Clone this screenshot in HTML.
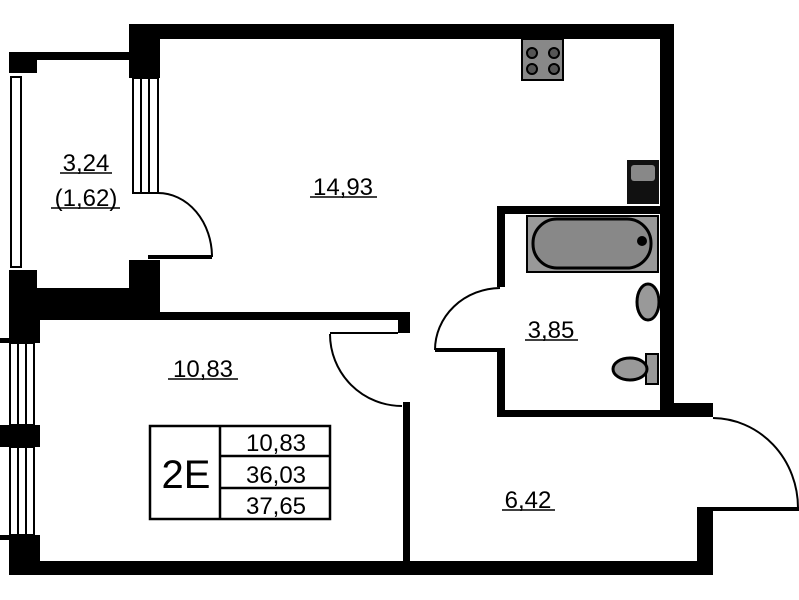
<!DOCTYPE html>
<html><head><meta charset="utf-8"><style>
html,body{margin:0;padding:0;background:#fff;}
svg{display:block;}
text{font-family:"Liberation Sans",sans-serif;fill:#000;}
</style></head><body>
<svg width="799" height="600" viewBox="0 0 799 600" xmlns="http://www.w3.org/2000/svg">
<rect width="799" height="600" fill="#fff"/>
<g fill="#000">
<rect x="129" y="24" width="545" height="15"/>
<rect x="129" y="24" width="31" height="54"/>
<rect x="660" y="24" width="14" height="393"/>
<rect x="9" y="52" width="120" height="8"/>
<rect x="9" y="52" width="28" height="21"/>
<rect x="9" y="270" width="28" height="70"/>
<rect x="9" y="288" width="151" height="24"/>
<rect x="129" y="260" width="31" height="52"/>
<rect x="148" y="255" width="64" height="4"/>
<rect x="9" y="312" width="401" height="8"/>
<rect x="398" y="312" width="12" height="21"/>
<rect x="9" y="312" width="31" height="30"/>
<rect x="0" y="338" width="40" height="5"/>
<rect x="0" y="425" width="40" height="22"/>
<rect x="9" y="535" width="31" height="40"/>
<rect x="0" y="535" width="40" height="5"/>
<rect x="9" y="561" width="704" height="14"/>
<rect x="403" y="402" width="7" height="160"/>
<rect x="497" y="206" width="163" height="8"/>
<rect x="497" y="206" width="8" height="81"/>
<rect x="497" y="350" width="8" height="67"/>
<rect x="497" y="410" width="216" height="7"/>
<rect x="660" y="403" width="53" height="14"/>
<rect x="435" y="348" width="70" height="4"/>
<rect x="697" y="507" width="16" height="68"/>
<rect x="705" y="507" width="94" height="4"/>
</g>
<g fill="#fff" stroke="#000" stroke-width="2">
<rect x="11" y="77" width="10" height="190"/>
<rect x="133" y="78" width="8" height="115"/>
<rect x="141" y="78" width="8" height="115"/>
<rect x="149" y="78" width="9" height="115"/>
<rect x="10" y="343" width="8" height="82"/>
<rect x="18" y="343" width="8" height="82"/>
<rect x="26" y="343" width="8" height="82"/>
<rect x="10" y="447" width="8" height="88"/>
<rect x="18" y="447" width="8" height="88"/>
<rect x="26" y="447" width="8" height="88"/>
</g>
<g fill="none" stroke="#000" stroke-width="2">
<path d="M158 193 A54 64 0 0 1 212 257"/>
<path d="M330 334 A72 72 0 0 0 402 406"/>
<path d="M330 333 L398 333"/>
<path d="M435 350 A66 62 0 0 1 500 288"/>
<path d="M713 418 A86 90 0 0 1 798 508"/>
</g>
<rect x="522" y="39" width="41" height="41" fill="#888" stroke="#000" stroke-width="2"/>
<g fill="#555" stroke="#000" stroke-width="2">
<circle cx="532" cy="53" r="5"/><circle cx="554" cy="53" r="5"/>
<circle cx="532" cy="69" r="5"/><circle cx="554" cy="69" r="5"/>
</g>
<rect x="627" y="160" width="32" height="44" fill="#111"/>
<rect x="631" y="165" width="24" height="16" rx="3" fill="#888"/>
<rect x="527" y="216" width="131" height="56" fill="#999" stroke="#000" stroke-width="2"/>
<rect x="533" y="219" width="118" height="49" rx="24" fill="#888" stroke="#000" stroke-width="3"/>
<circle cx="642" cy="241" r="5" fill="#000"/>
<ellipse cx="648" cy="302" rx="11" ry="18" fill="#999" stroke="#000" stroke-width="3"/>
<rect x="646" y="354" width="12" height="30" fill="#999" stroke="#000" stroke-width="2"/>
<ellipse cx="630" cy="369" rx="17" ry="11" fill="#999" stroke="#000" stroke-width="3"/>
<g font-size="24" text-anchor="middle">
<text x="343" y="195">14,93</text>
<text x="86" y="171">3,24</text>
<text x="86" y="206">(1,62)</text>
<text x="203" y="377">10,83</text>
<text x="551" y="338">3,85</text>
<text x="528" y="508">6,42</text>
</g>
<g stroke="#000" stroke-width="1.5">
<line x1="310" y1="197" x2="377" y2="197"/>
<line x1="60" y1="173" x2="112" y2="173"/>
<line x1="51" y1="208" x2="120" y2="208"/>
<line x1="168" y1="379" x2="238" y2="379"/>
<line x1="525" y1="340" x2="578" y2="340"/>
<line x1="502" y1="510" x2="555" y2="510"/>
</g>
<g fill="none" stroke="#000" stroke-width="2.5">
<rect x="150" y="426" width="180" height="93"/>
<line x1="220" y1="426" x2="220" y2="519"/>
<line x1="220" y1="456" x2="330" y2="456"/>
<line x1="220" y1="488" x2="330" y2="488"/>
</g>
<text x="186" y="488" font-size="40" text-anchor="middle">2E</text>
<g font-size="24" text-anchor="middle">
<text x="276" y="451">10,83</text>
<text x="276" y="483">36,03</text>
<text x="276" y="514">37,65</text>
</g>
</svg>
</body></html>
